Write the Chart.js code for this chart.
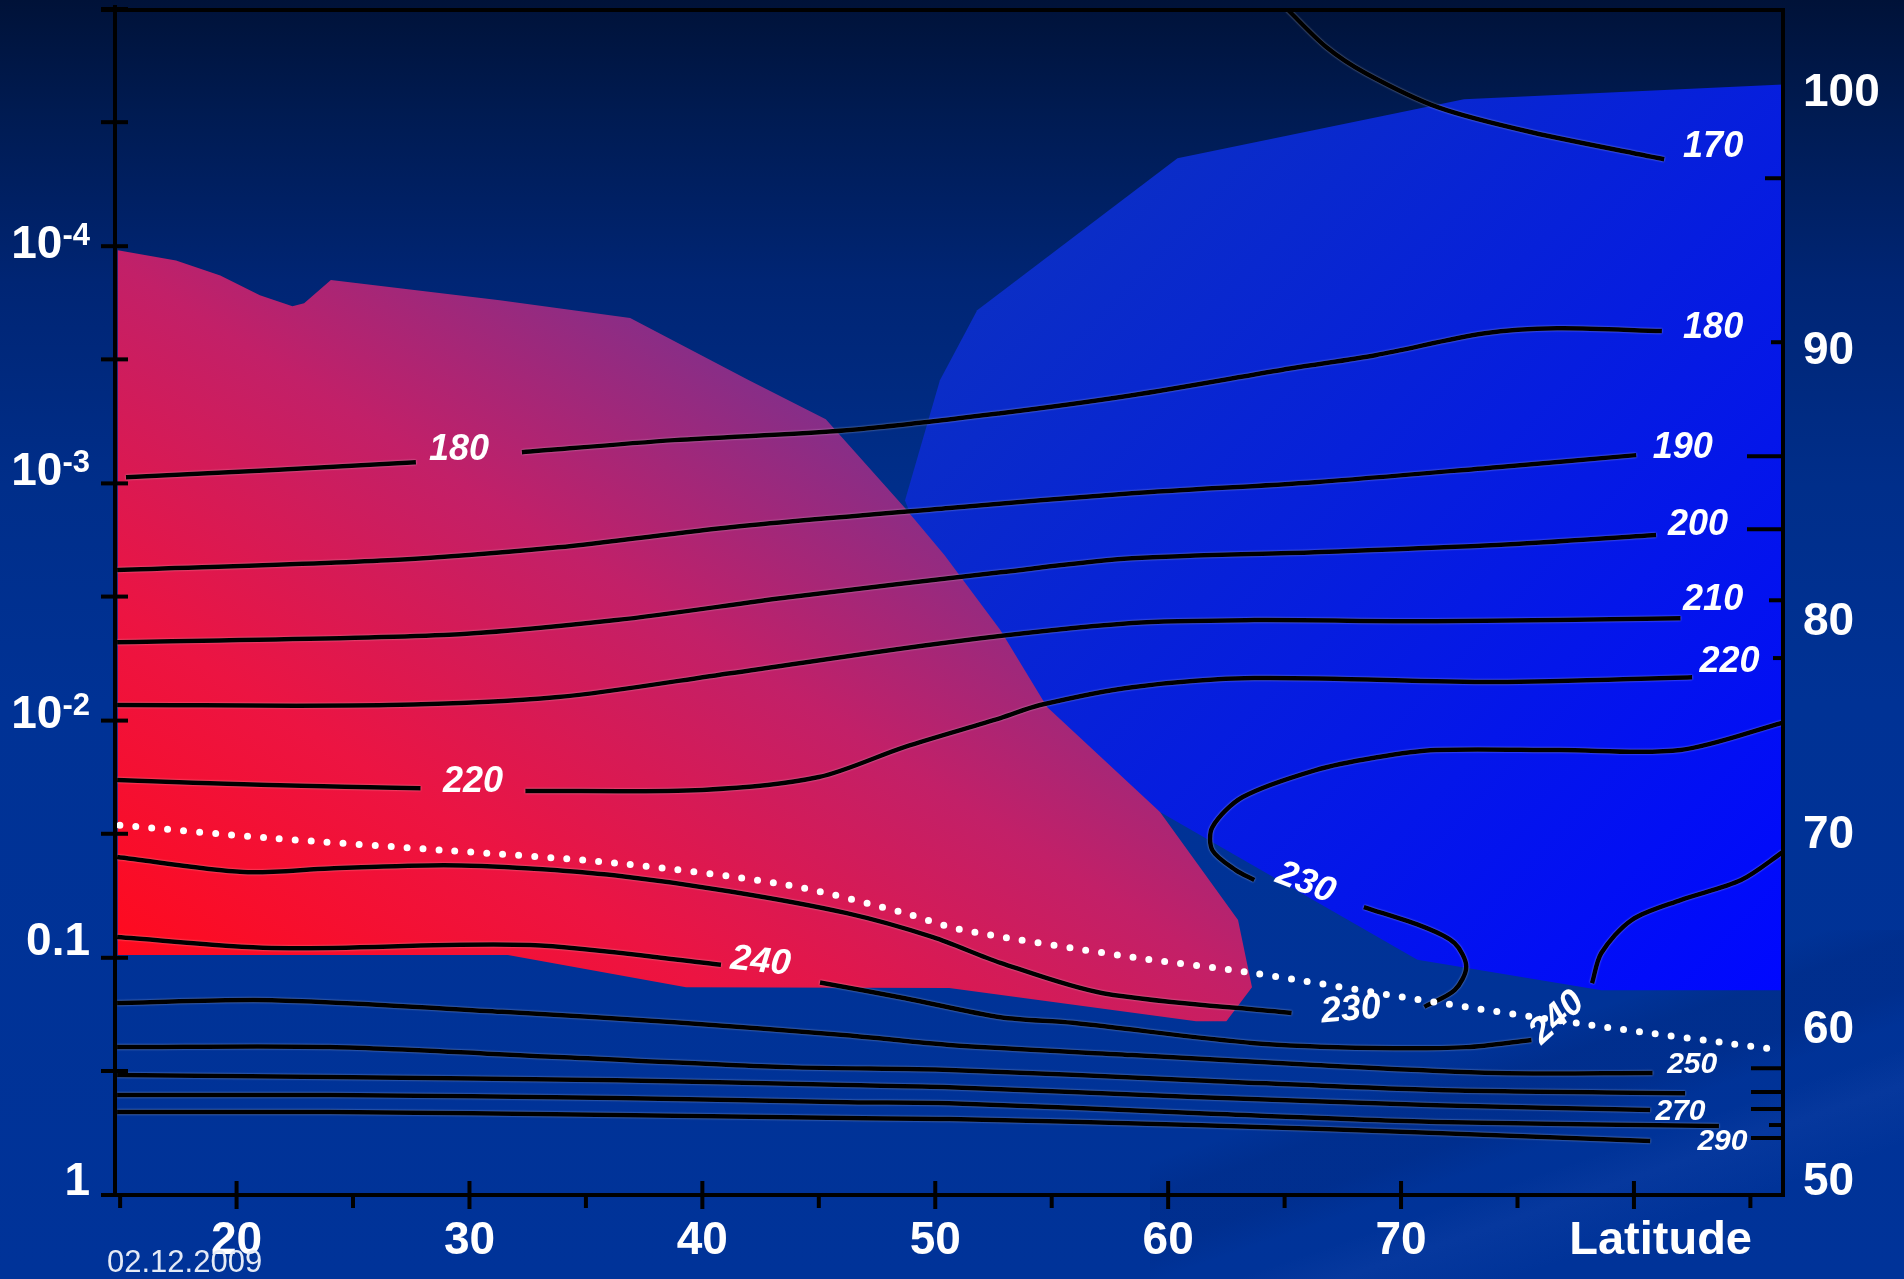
<!DOCTYPE html>
<html>
<head>
<meta charset="utf-8">
<title>Temperature cross-section: latitude vs pressure</title>
<script src="https://cdn.jsdelivr.net/npm/chart.js@4.4.1/dist/chart.umd.min.js"></script>
<style>
  html, body { margin: 0; padding: 0; overflow: hidden; }
  body {
    width: 1904px; height: 1279px;
    background: linear-gradient(to bottom, #001238 0%, #001b52 9%, #002574 22%, #002e8a 38%, #003295 55%, #003399 100%);
  }
  #wrap { position: relative; width: 1904px; height: 1279px; }
  /* soft diagonal streaks of the slide background, lower right */
  #wrap::before {
    content: ''; position: absolute; left: 1150px; top: 930px; width: 754px; height: 349px;
    background:
      linear-gradient(161deg, rgba(0,0,0,0) 38%, rgba(0,10,60,0.10) 44%, rgba(0,10,60,0.10) 52%, rgba(0,0,0,0) 58%),
      linear-gradient(161deg, rgba(0,0,0,0) 62%, rgba(120,150,255,0.05) 68%, rgba(0,0,0,0) 78%);
  }
  #chart { position: relative; }
</style>
</head>
<body>
<div id="wrap"><canvas id="chart"></canvas></div>
<script>
// ---- axes -------------------------------------------------------------
const LAT_MIN = 14.78, LAT_MAX = 86.4;           // degrees latitude
const P_TOP = 1e-5, P_BOTTOM = 1;                 // pressure (log axis, reversed)
const latLabels = [20, 30, 40, 50, 60, 70];
const latMajor = [20, 30, 40, 50, 60, 70, 80];
const latMinor = [15, 25, 35, 45, 55, 65, 75, 85];
const pressureTicks = [1e-5, 3e-5, 1e-4, 3e-4, 1e-3, 3e-3, 1e-2, 3e-2, 0.1, 0.3, 1];
const pressureDecades = [1e-4, 1e-3, 1e-2, 0.1, 1];
const decadeBase = ['10', '10', '10', '0.1', '1'];
const decadeExp = ['-4', '-3', '-2', '', ''];
const altitudeKm = [100, 90, 80, 70, 60, 50];
const altitudePressure = [2.27e-5, 2.77e-4, 3.85e-3, 0.0304, 0.202, 0.882];
const rightTickPressure = [5.17e-5, 2.54e-4, 7.68e-4, 1.56e-3, 3.11e-3, 5.45e-3, 0.292, 0.368, 0.434, 0.507, 0.575];

// ---- shaded regions [latitude, pressure] ------------------------------
const redZone = [[14.9,1.04e-4],[17.4,1.15e-4],[19.3,1.33e-4],[21.0,1.61e-4],[22.4,1.79e-4],[22.9,1.74e-4],
  [24.05,1.39e-4],[31.3,1.69e-4],[36.9,2.01e-4],[42.0,3.67e-4],[45.3,5.36e-4],[48.7,1.27e-3],[50.4,2.01e-3],
  [52.8,4.16e-3],[54.8,8.77e-3],[59.65,2.43e-2],[63.0,6.93e-2],[63.6,0.133],[62.5,0.185],[61.2,0.185],
  [50.6,0.134],[39.3,0.133],[31.65,0.0974],[14.9,0.0974]];
const blueZone = [[86.4,2.08e-5],[72.7,2.40e-5],[60.4,4.26e-5],[51.8,1.86e-4],[50.2,3.67e-4],[48.7,1.18e-3],
  [51.1,4.58e-3],[54.5,1.21e-2],[59.65,2.43e-2],[70.7,0.102],[78.6,0.137],[86.4,0.137]];

// ---- isotherms (K) [latitude, pressure] -------------------------------
const iso170 = [[65.1,1.0e-5],[66.8,1.45e-5],[68.5,1.87e-5],[71.6,2.6e-5],[75.6,3.31e-5],[81.3,4.3e-5]];
const iso180West = [[15.25,9.41e-4],[21.4,8.8e-4],[27.7,8.14e-4]];
const iso180East = [[32.25,7.39e-4],[38.8,6.57e-4],[46.2,5.97e-4],[52.8,5.06e-4],[58.45,4.25e-4],[65.3,3.27e-4],
  [68.9,2.88e-4],[73.6,2.33e-4],[76.7,2.22e-4],[81.2,2.28e-4]];
const iso190 = [[14.87,2.32e-3],[26.5,2.11e-3],[33.8,1.86e-3],[41.2,1.53e-3],[50.6,1.27e-3],[58.45,1.10e-3],
  [66.3,9.88e-4],[74.1,8.54e-4],[80.1,7.60e-4]];
const iso200 = [[14.87,4.67e-3],[28.9,4.36e-3],[36.3,3.77e-3],[43.7,3.02e-3],[52.8,2.37e-3],[58.45,2.07e-3],
  [66.3,1.95e-3],[74.1,1.82e-3],[80.95,1.65e-3]];
const iso210 = [[14.87,8.60e-3],[26.5,8.60e-3],[33.8,7.96e-3],[41.2,6.31e-3],[50.6,4.67e-3],[58.45,3.88e-3],
  [63.7,3.77e-3],[71.5,3.81e-3],[82.0,3.70e-3]];
const iso220West = [[14.87,1.78e-2],[21.4,1.87e-2],[27.9,1.93e-2]];
const iso220East = [[32.4,1.98e-2],[40.0,1.96e-2],[45.0,1.73e-2],[48.7,1.29e-2],[52.8,9.76e-3],[54.5,8.60e-3],
  [58.45,7.23e-3],[63.7,6.62e-3],[74.1,6.88e-3],[82.5,6.56e-3]];
const iso230Loop = [[86.4,1.02e-2],[82.0,1.33e-2],[76.8,1.33e-2],[71.5,1.33e-2],[68.9,1.43e-2],[66.3,1.62e-2],
  [63.2,2.10e-2],[61.9,2.81e-2],[61.9,3.52e-2],[62.9,4.27e-2],[63.7,4.70e-2]];
const iso230Hook = [[68.4,6.11e-2],[71.0,7.42e-2],[72.3,8.67e-2],[72.8,0.109],[72.3,0.137],[71.0,0.161]];
const iso230Low = [[14.87,0.0376],[20.3,0.0435],[24.0,0.0420],[28.9,0.0407],[32.6,0.0420],[36.3,0.0450],
  [41.2,0.0525],[46.2,0.0648],[49.9,0.0818],[52.8,0.105],[57.2,0.141],[65.3,0.171]];
const iso240West = [[14.87,0.0818],[21.5,0.0910],[32.6,0.0884],[40.8,0.107]];
const iso240East = [[45.05,0.127],[48.7,0.148],[52.8,0.178],[55.9,0.188],[63.7,0.229],[68.9,0.240],[72.8,0.238],[75.6,0.222]];
const iso240Rise = [[78.2,0.128],[78.6,0.0955],[79.9,0.0693],[82.0,0.0571],[84.6,0.0470],[86.4,0.0358]];
const iso250 = [[14.87,0.155],[21.5,0.151],[31.4,0.169],[38.8,0.187],[46.2,0.212],[50.6,0.233],[58.45,0.257],
  [66.3,0.283],[74.1,0.306],[80.8,0.306]];
const iso260 = [[14.87,0.238],[24.0,0.238],[33.8,0.262],[43.7,0.289],[50.6,0.297],[61.1,0.328],[71.5,0.361],[82.2,0.372]];
const iso270 = [[14.87,0.312],[24.0,0.318],[36.3,0.328],[46.2,0.344],[50.6,0.351],[61.1,0.386],[71.5,0.418],[80.7,0.438]];
const iso280 = [[14.87,0.379],[24.0,0.379],[36.3,0.390],[46.2,0.406],[50.6,0.410],[61.1,0.451],[71.5,0.492],[83.65,0.512]];
const iso290 = [[14.87,0.447],[24.0,0.447],[36.3,0.460],[46.2,0.474],[50.6,0.478],[61.1,0.507],[71.5,0.548],[80.7,0.592]];

// dotted boundary line
const boundary = [[14.99,0.0276],[21.5,0.0313],[28.9,0.0352],[36.3,0.0399],[43.7,0.0494],[48.7,0.0648],
  [51.0,0.0757],[58.45,0.0993],[63.4,0.115],[71.5,0.154],[78.1,0.192],[86.3,0.245]];

// isotherm labels
const isoLabelText = ['170','180','180','190','200','210','220','220','230','240','230','240','250','270','290'];
const isoLabelLat = [83.4, 83.4, 29.55, 82.1, 82.75, 83.4, 84.1, 30.15, 65.9, 42.5, 67.85, 76.7, 82.5, 82.0, 83.8];
const isoLabelP = [3.83e-5, 2.22e-4, 7.24e-4, 7.10e-4, 1.50e-3, 3.11e-3, 5.67e-3, 1.82e-2, 4.84e-2, 0.104, 0.166, 0.179, 0.283, 0.447, 0.598];

// ---- styling ----------------------------------------------------------
const FONT = "'Liberation Sans', Arial, Helvetica, sans-serif";
const isoLabelTilt = [0, 0, 0, 0, 0, 0, 0, 0, 21, 6, -5, -42, 0, 0, 0];
const isoLabelSize = [36, 36, 36, 36, 36, 36, 36, 36, 36, 36, 36, 36, 30, 30, 30];
const rightTickLen = [16, 10, 34, 34, 12, 8, 30, 30, 30, 12, 30];
const decadeLabelShift = [-1, -11, -5, -15, -13];   // vertical nudge of left labels, px

const toPoints = arr => arr.map(([x, y]) => ({ x, y }));

function redFill(context) {
  const c = context.chart;
  if (!c.chartArea) return '#d81a50';
  const { x, y } = c.scales;
  const g = c.ctx.createLinearGradient(x.getPixelForValue(14.9), y.getPixelForValue(0.097),
                                       x.getPixelForValue(34.1), y.getPixelForValue(1.08e-4));
  g.addColorStop(0, '#ff0a1e');
  g.addColorStop(0.35, '#ec1442');
  g.addColorStop(0.7, '#c22068');
  g.addColorStop(1, '#862e88');
  return g;
}

function blueFill(context) {
  const c = context.chart;
  if (!c.chartArea) return '#0820e0';
  const { x, y } = c.scales;
  const g = c.ctx.createLinearGradient(x.getPixelForValue(52.8), y.getPixelForValue(1.04e-4),
                                       x.getPixelForValue(86.4), y.getPixelForValue(0.137));
  g.addColorStop(0, '#0b2fc4');
  g.addColorStop(1, '#0008ff');
  return g;
}

const isotherms = [iso170, iso180West, iso180East, iso190, iso200, iso210, iso220West, iso220East,
  iso230Loop, iso230Hook, iso230Low, iso240West, iso240East, iso240Rise, iso250, iso260, iso270, iso280, iso290];

const datasets = [
  { data: toPoints(blueZone), fill: 'shape', backgroundColor: blueFill, borderWidth: 0, tension: 0, order: 10 },
  { data: toPoints(redZone), fill: 'shape', backgroundColor: redFill, borderWidth: 0, tension: 0, order: 9 },
  ...isotherms.map(line => ({
    data: toPoints(line), fill: false, borderColor: '#000', borderWidth: 4.5,
    tension: 0.3, order: 2, halo: true
  })),
  { data: toPoints(boundary), fill: false, borderColor: '#fff', borderWidth: 7,
    borderDash: [0, 16], borderCapStyle: 'round', tension: 0.3, order: 1 }
];

// faint white fringe around the black isotherms
const halo = {
  id: 'halo',
  beforeDatasetDraw(chart, args) {
    if (chart.data.datasets[args.index].halo) {
      chart.ctx.save();
      chart.ctx.shadowColor = 'rgba(255,255,255,0.55)';
      chart.ctx.shadowBlur = 2;
    }
  },
  afterDatasetDraw(chart, args) {
    if (chart.data.datasets[args.index].halo) chart.ctx.restore();
  }
};

// frame, tick marks, left pressure labels, isotherm labels
const overlay = {
  id: 'overlay',
  afterDatasetsDraw(chart) {
    const { ctx, chartArea: a, scales: { x, y } } = chart;
    const seg = (x1, y1, x2, y2) => { ctx.beginPath(); ctx.moveTo(x1, y1); ctx.lineTo(x2, y2); ctx.stroke(); };
    ctx.save();
    ctx.strokeStyle = '#000';
    ctx.lineWidth = 4;
    ctx.lineCap = 'square';
    seg(a.left - 12, a.top + 1, a.right, a.top + 1);
    seg(a.left, a.top - 2, a.left, a.bottom);
    seg(a.right, a.top + 1, a.right, a.bottom);
    seg(a.left - 12, a.bottom, a.right, a.bottom);

    pressureTicks.forEach(p => { const py = y.getPixelForValue(p); seg(a.left - 12, py, a.left + 11, py); });
    latMajor.forEach(v => { const px = x.getPixelForValue(v); seg(px, a.bottom - 12, px, a.bottom + 12); });
    latMinor.forEach(v => { const px = x.getPixelForValue(v); seg(px, a.bottom, px, a.bottom + 11); });
    rightTickPressure.forEach((p, i) => { const py = y.getPixelForValue(p); seg(a.right - rightTickLen[i], py, a.right, py); });

    ctx.fillStyle = '#fff';
    ctx.textBaseline = 'middle';
    ctx.textAlign = 'right';
    pressureDecades.forEach((p, i) => {
      const py = y.getPixelForValue(p) + decadeLabelShift[i];
      let right = a.left - 25;
      if (decadeExp[i]) {
        ctx.font = `bold 31px ${FONT}`;
        ctx.fillText(decadeExp[i], right, py - 9);
        right -= ctx.measureText(decadeExp[i]).width;
      }
      ctx.font = `bold 46px ${FONT}`;
      ctx.fillText(decadeBase[i], right, py);
    });

    ctx.textAlign = 'center';
    isoLabelText.forEach((t, i) => {
      ctx.save();
      ctx.translate(x.getPixelForValue(isoLabelLat[i]), y.getPixelForValue(isoLabelP[i]));
      ctx.rotate(isoLabelTilt[i] * Math.PI / 180);
      ctx.font = `italic bold ${isoLabelSize[i]}px ${FONT}`;
      ctx.fillText(t, 0, 0);
      ctx.restore();
    });

    ctx.textAlign = 'right';
    ctx.font = `bold 47px ${FONT}`;
    ctx.fillText('Latitude', a.right - 31, a.bottom + 46);

    ctx.textAlign = 'left';
    ctx.font = `31px ${FONT}`;
    ctx.fillStyle = '#e4eaf6';
    ctx.fillText('02.12.2009', 107, a.bottom + 68);
    ctx.restore();
  }
};

const tickFont = { family: FONT, size: 46, weight: 'bold' };

new Chart(document.getElementById('chart'), {
  type: 'line',
  data: { datasets },
  options: {
    responsive: true,
    maintainAspectRatio: false,
    animation: false,
    events: [],
    layout: { padding: { top: 9, left: 0, right: 0, bottom: 0 } },
    elements: { point: { radius: 0 } },
    plugins: { legend: { display: false }, tooltip: { enabled: false } },
    scales: {
      x: {
        type: 'linear', position: 'bottom', min: LAT_MIN, max: LAT_MAX,
        grid: { display: false, drawTicks: false }, border: { display: false },
        afterBuildTicks: s => { s.ticks = latLabels.map(v => ({ value: v })); },
        afterFit: s => { s.height = 84; s.paddingLeft = 0; s.paddingRight = 0; },
        ticks: { color: '#fff', font: tickFont, padding: 19, maxRotation: 0, autoSkip: false,
                 callback: v => String(v) }
      },
      y: {
        type: 'logarithmic', position: 'left', min: P_TOP, max: P_BOTTOM, reverse: true,
        grid: { display: false, drawTicks: false }, border: { display: false },
        ticks: { display: false },
        afterFit: s => { s.width = 115; s.paddingTop = 0; s.paddingBottom = 0; }
      },
      alt: {
        type: 'logarithmic', position: 'right', min: P_TOP, max: P_BOTTOM, reverse: true,
        grid: { display: false, drawTicks: false }, border: { display: false },
        afterBuildTicks: s => { s.ticks = altitudePressure.map(v => ({ value: v })); },
        afterFit: s => { s.width = 121; s.paddingTop = 0; s.paddingBottom = 0; },
        ticks: { color: '#fff', font: tickFont, padding: 20, autoSkip: false,
                 callback: (v, i) => String(altitudeKm[i]) }
      }
    }
  },
  plugins: [halo, overlay]
});
</script>
</body>
</html>
